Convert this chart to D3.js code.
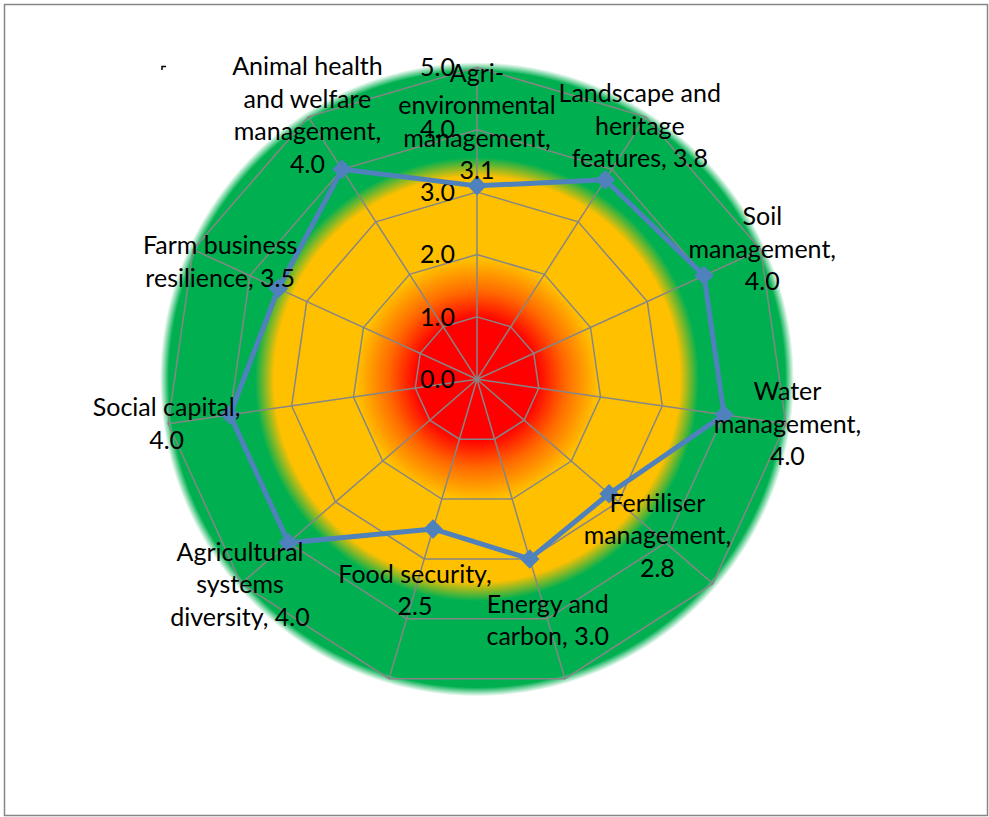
<!DOCTYPE html>
<html>
<head>
<meta charset="utf-8">
<script src="https://cdn.jsdelivr.net/npm/d3@7"></script>
<style>
  body { margin: 0; background: #fff; }
  text { font-family: Lato, "Open Sans", sans-serif; fill: #000; }
</style>
</head>
<body>
<div id="chart"></div>
<script>
var categories = [
  'Agri-environmental management',
  'Landscape and heritage features',
  'Soil management',
  'Water management',
  'Fertiliser management',
  'Energy and carbon',
  'Food security',
  'Agricultural systems diversity',
  'Social capital',
  'Farm business resilience',
  'Animal health and welfare management'
];
var scores = [3.1, 3.8, 4.0, 4.0, 2.8, 3.0, 2.5, 4.0, 4.0, 3.5, 4.0];
// how each data label is broken over lines (value is appended to the last line)
var labelLines = [
  ['Agri-', 'environmental', 'management,', ''],
  ['Landscape and', 'heritage', 'features, '],
  ['Soil', 'management,', ''],
  ['Water', 'management,', ''],
  ['Fertiliser', 'management,', ''],
  ['Energy and', 'carbon, '],
  ['Food security,', ''],
  ['Agricultural', 'systems', 'diversity, '],
  ['Social capital,', ''],
  ['Farm business', 'resilience, '],
  ['Animal health', 'and welfare', 'management,', '']
];
var ticks = [0, 1, 2, 3, 4, 5];

(function() {
  'use strict';
  var width = 989,
    height = 817,
    cx = 477,
    cy = 379.3,
    radius = 312,
    fontSize = 25,
    lineHeight = 32.5,
    labelGap = 64,
    gridColor = '#868686',
    lineColor = '#4F81BD';

  var svg = d3.select('#chart').append('svg')
    .attr('width', width)
    .attr('height', height);

  // background radial fill of the plot area
  var defs = svg.append('defs');
  var grad = defs.append('radialGradient')
    .attr('id', 'bg')
    .attr('gradientUnits', 'userSpaceOnUse')
    .attr('cx', cx).attr('cy', cy).attr('r', 317);
  [[0, '#FF0000'], [0.19, '#FF0000'], [0.28, '#FF6A00'], [0.38, '#FFC000'],
   [0.64, '#FFC000'], [0.70, '#00B050'], [0.972, '#00B050'], [1, '#FFFFFF']]
    .forEach(function(s) {
      grad.append('stop').attr('offset', s[0]).attr('stop-color', s[1]);
    });

  svg.append('rect')
    .attr('x', 4.5).attr('y', 4.5)
    .attr('width', width - 6).attr('height', height - 6)
    .attr('fill', '#fff')
    .attr('stroke', gridColor)
    .attr('stroke-width', 1.5);

  svg.append('path')
    .attr('d', 'M162,70V66.5H166')
    .attr('fill', 'none')
    .attr('stroke', '#000')
    .attr('stroke-width', 1.5);

  svg.append('circle')
    .attr('cx', cx).attr('cy', cy).attr('r', 317)
    .attr('fill', 'url(#bg)');

  var g = svg.append('g').attr('transform', 'translate(' + cx + ',' + cy + ')');

  var rScale = d3.scaleLinear().domain([0, 5]).range([0, radius]);
  var angle = d3.scalePoint()
    .domain(d3.range(categories.length + 1))
    .range([0, 2 * Math.PI]);

  function px(i, v) { return rScale(v) * Math.sin(angle(i)); }
  function py(i, v) { return -rScale(v) * Math.cos(angle(i)); }

  var ring = d3.lineRadial()
    .angle(function(d, i) { return angle(i); })
    .radius(function(d) { return rScale(d); })
    .curve(d3.curveLinearClosed);

  // grid rings and spokes
  g.selectAll('path.ring')
    .data(ticks.slice(1))
    .enter().append('path')
    .attr('class', 'ring')
    .attr('d', function(t) { return ring(categories.map(function() { return t; })); })
    .attr('fill', 'none')
    .attr('stroke', gridColor)
    .attr('stroke-width', 1.5);

  g.selectAll('line.spoke')
    .data(categories)
    .enter().append('line')
    .attr('class', 'spoke')
    .attr('x1', 0).attr('y1', 0)
    .attr('x2', function(d, i) { return px(i, 5); })
    .attr('y2', function(d, i) { return py(i, 5); })
    .attr('stroke', gridColor)
    .attr('stroke-width', 1.5);

  // axis values
  g.selectAll('text.tick')
    .data(ticks)
    .enter().append('text')
    .attr('class', 'tick')
    .attr('x', -22)
    .attr('y', function(t) { return -rScale(t); })
    .attr('dy', '0.35em')
    .attr('text-anchor', 'end')
    .style('font-size', fontSize + 'px')
    .text(d3.format('.1f'));

  // series
  g.append('path')
    .datum(scores)
    .attr('d', ring)
    .attr('fill', 'none')
    .attr('stroke', lineColor)
    .attr('stroke-width', 5)
    .attr('stroke-linejoin', 'round');

  g.selectAll('path.marker')
    .data(scores)
    .enter().append('path')
    .attr('class', 'marker')
    .attr('d', d3.symbol().type(d3.symbolSquare).size(190))
    .attr('transform', function(d, i) {
      return 'translate(' + px(i, d) + ',' + py(i, d) + ') rotate(45)';
    })
    .attr('fill', lineColor);

  // data labels
  g.selectAll('text.label')
    .data(scores)
    .enter().append('text')
    .attr('class', 'label')
    .attr('text-anchor', 'middle')
    .style('font-size', fontSize + 'px')
    .each(function(d, i) {
      var lines = labelLines[i].slice();
      lines[lines.length - 1] += d3.format('.1f')(d);
      var lx = px(i, d) + labelGap * Math.sin(angle(i)),
        ly = py(i, d) - labelGap * Math.cos(angle(i)),
        top = ly - (lines.length - 1) * lineHeight / 2;
      var t = d3.select(this);
      lines.forEach(function(s, k) {
        t.append('tspan')
          .attr('x', lx)
          .attr('y', top + k * lineHeight)
          .attr('dy', '0.35em')
          .text(s);
      });
    });
})();
</script>
</body>
</html>
